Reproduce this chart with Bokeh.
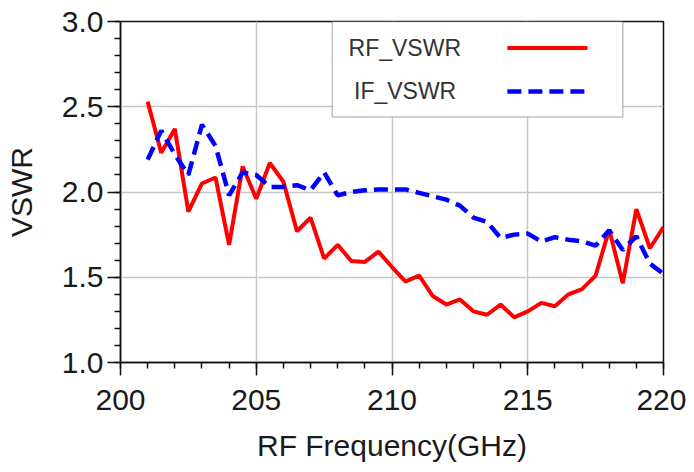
from bokeh.plotting import figure
from bokeh.models import (Range1d, SingleIntervalTicker, NumeralTickFormatter,
                          BoxAnnotation, Label, Arrow)
from bokeh.embed import file_html
from bokeh.resources import INLINE

# ---- data ----
freq_ghz = [201.0, 201.5, 202.0, 202.5, 203.0, 203.5, 204.0, 204.5, 205.0, 205.5,
            206.0, 206.5, 207.0, 207.5, 208.0, 208.5, 209.0, 209.5, 210.0, 210.5,
            211.0, 211.5, 212.0, 212.5, 213.0, 213.5, 214.0, 214.5, 215.0, 215.5,
            216.0, 216.5, 217.0, 217.5, 218.0, 218.5, 219.0, 219.5, 220.0]
rf_vswr = [2.53, 2.23, 2.37, 1.885, 2.05, 2.085, 1.69, 2.15, 1.96, 2.17,
           2.06, 1.77, 1.85, 1.61, 1.69, 1.595, 1.59, 1.65, 1.56, 1.475,
           1.51, 1.39, 1.34, 1.37, 1.30, 1.28, 1.34, 1.265, 1.30, 1.35,
           1.33, 1.40, 1.43, 1.51, 1.78, 1.465, 1.90, 1.67, 1.795]
if_vswr = [2.19, 2.36, 2.22, 2.10, 2.395, 2.27, 1.98, 2.115, 2.10, 2.03,
           2.03, 2.04, 2.01, 2.115, 1.98, 2.0, 2.01, 2.015, 2.015, 2.015,
           1.995, 1.975, 1.955, 1.92, 1.85, 1.825, 1.73, 1.75, 1.756, 1.71,
           1.735, 1.72, 1.71, 1.685, 1.775, 1.66, 1.74, 1.58, 1.52]
series_names = ["RF_VSWR", "IF_VSWR"]
x_label = "RF Frequency(GHz)"
y_label = "VSWR"

FONT = "Liberation Sans"
RED = "#ff0000"
BLUE = "#0000ff"

p = figure(width=686, height=464, output_backend="svg", toolbar_location=None,
           x_range=Range1d(200, 220), y_range=Range1d(1.0, 3.0),
           min_border_left=120, min_border_right=23, min_border_top=21,
           min_border_bottom=99)
p.background_fill_color = "white"
p.border_fill_color = "white"
p.outline_line_color = "#111111"
p.outline_line_width = 1.5

p.xaxis.ticker = SingleIntervalTicker(interval=5, num_minor_ticks=5)
p.yaxis.ticker = SingleIntervalTicker(interval=0.5, num_minor_ticks=5)
p.yaxis.formatter = NumeralTickFormatter(format="0.0")

for ax in (p.xaxis, p.yaxis):
    ax.axis_line_color = "#111111"
    ax.axis_line_width = 1.5
    ax.major_tick_line_color = "#111111"
    ax.major_tick_line_width = 1.5
    ax.minor_tick_line_color = "#111111"
    ax.minor_tick_line_width = 1.5
    ax.major_tick_in = 0
    ax.major_tick_out = 13
    ax.minor_tick_in = 0
    ax.minor_tick_out = 6
    ax.major_label_text_font = FONT
    ax.major_label_text_font_size = "30px"
    ax.major_label_text_color = "#1a1a1a"
    ax.axis_label_text_font = FONT
    ax.axis_label_text_font_style = "normal"
    ax.axis_label_text_color = "#1a1a1a"
    ax.axis_label_text_font_size = "30px"

p.xaxis.axis_label = x_label
p.yaxis.axis_label = y_label
p.xaxis.major_label_standoff = 14
p.yaxis.major_label_standoff = 4
p.xaxis.axis_label_standoff = 16
p.yaxis.axis_label_standoff = 21

p.xgrid.grid_line_color = "#c8c8c8"
p.ygrid.grid_line_color = "#c8c8c8"
p.xgrid.grid_line_width = 1.5
p.ygrid.grid_line_width = 1.5

p.line(freq_ghz, rf_vswr, line_color=RED, line_width=4)
p.line(freq_ghz, if_vswr, line_color=BLUE, line_width=4.5, line_dash="14 7")

# ---- legend (text on the left, line sample on the right) ----
box = BoxAnnotation(left=207.8, right=218.5, top=3.0, bottom=2.44,
                    fill_color="white", fill_alpha=1.0,
                    line_color="#333333", line_width=1.5)
p.add_layout(box)

legend_rows = [(2.845, RED, None), (2.59, BLUE, "14 7")]
label_x = [208.4, 208.6]
for (ly, col, dash), name, lx in zip(legend_rows, series_names, label_x):
    p.add_layout(Label(x=lx, y=ly, text=name, text_font=FONT,
                       text_font_size="23px", text_color="#333333",
                       text_baseline="middle", text_align="left"))
    kw = dict(x_start=214.25, y_start=ly, x_end=217.2 if dash is None else 217.1,
              y_end=ly, start=None, end=None, line_color=col,
              line_width=4 if dash is None else 4.5)
    if dash is not None:
        kw["line_dash"] = dash
    p.add_layout(Arrow(**kw))

open("out.html", "w").write(file_html(p, INLINE))
